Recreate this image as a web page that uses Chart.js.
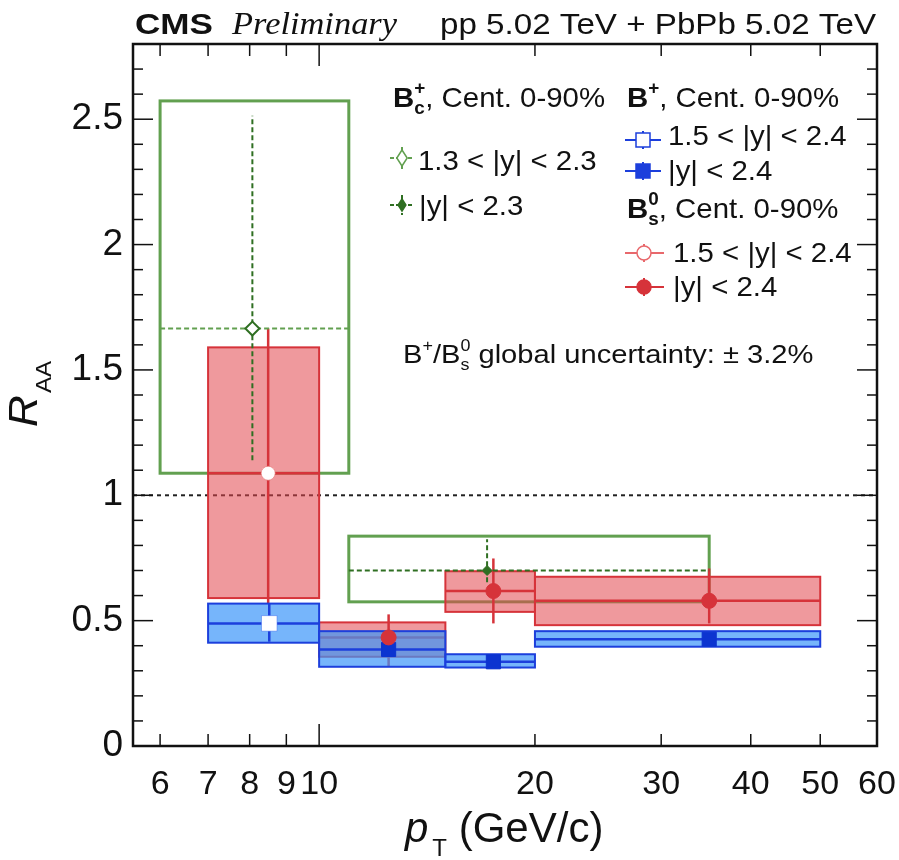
<!DOCTYPE html>
<html>
<head>
<meta charset="utf-8">
<script src="https://cdn.jsdelivr.net/npm/chart.js@4.4.1/dist/chart.umd.min.js"></script>
<style>
  html, body { margin: 0; padding: 0; background: #fff; }
  #wrap { width: 899px; height: 860px; }
</style>
</head>
<body>
<div id="wrap"><canvas id="raa" width="899" height="860"></canvas></div>
<script>
const SANS = '"Liberation Sans", Arial, Helvetica, sans-serif';
const SERIF = '"Liberation Serif", "Times New Roman", serif';

// axis ticks
const xTickVals = [6, 7, 8, 9, 10, 20, 30, 40, 50, 60];
const yTickVals = [0, 0.5, 1, 1.5, 2, 2.5];

// Bc+, Cent. 0-90%  (bin 0: 1.3 < |y| < 2.3, bin 1: |y| < 2.3)
const bcBinLo = [6, 11];
const bcBinHi = [11, 35];
const bcPt = [8.07, 17.15];
const bcRaa = [1.665, 0.70];
const bcStatLo = [1.14, 0.653];
const bcStatHi = [2.514, 0.825];
const bcSystLo = [1.088, 0.575];
const bcSystHi = [2.573, 0.837];

// B+, Cent. 0-90%  (bin 0: 1.5 < |y| < 2.4, others |y| < 2.4)
const bpBinLo = [7, 10, 15, 20];
const bpBinHi = [10, 15, 20, 50];
const bpPt = [8.52, 12.5, 17.5, 35];
const bpRaa = [0.489, 0.385, 0.336, 0.426];
const bpStatLo = [0.416, 0.36, 0.32, 0.41];
const bpStatHi = [0.568, 0.41, 0.35, 0.44];
const bpSystLo = [0.412, 0.316, 0.313, 0.396];
const bpSystHi = [0.568, 0.458, 0.366, 0.458];

// Bs0, Cent. 0-90%  (bin 0: 1.5 < |y| < 2.4, others |y| < 2.4)
const bsBinLo = [7, 10, 15, 20];
const bsBinHi = [10, 15, 20, 50];
const bsPt = [8.49, 12.5, 17.5, 35];
const bsRaa = [1.088, 0.433, 0.618, 0.579];
const bsStatLo = [0.57, 0.316, 0.489, 0.489];
const bsStatHi = [1.665, 0.525, 0.748, 0.708];
const bsSystLo = [0.59, 0.356, 0.535, 0.482];
const bsSystHi = [1.59, 0.493, 0.697, 0.675];

const GREEN = '#62a050';
const GREEN_D = '#2f6f22';
const RED = '#d6333a';
const RED_FILL = 'rgba(226,70,76,0.55)';
const BLUE = '#1c3fdc';
const BLUE_FILL = 'rgba(60,150,250,0.7)';
const INK = '#111';

function seg(ctx, x1, y1, x2, y2) {
    ctx.beginPath();
    ctx.moveTo(x1, y1);
    ctx.lineTo(x2, y2);
    ctx.stroke();
}

function drawSpecies(ctx, X, Y, lo, hi, pt, raa, sLo, sHi, bLo, bHi, col, fill) {
    lo.forEach((l, i) => {
        const x1 = X(l), x2 = X(hi[i]);
        const yt = Y(bHi[i]), yb = Y(bLo[i]);
        ctx.fillStyle = fill;
        ctx.fillRect(x1, yt, x2 - x1, yb - yt);
        ctx.strokeStyle = col;
        ctx.lineWidth = 2;
        ctx.strokeRect(x1, yt, x2 - x1, yb - yt);
        ctx.lineWidth = 2.5;
        seg(ctx, x1, Y(raa[i]), x2, Y(raa[i]));
        seg(ctx, X(pt[i]), Y(sLo[i]), X(pt[i]), Y(sHi[i]));
    });
}

// text drawn as runs (for sub/superscripts), stretched by sx
function rich(ctx, x, y, parts, sx) {
    ctx.save();
    ctx.translate(x, y);
    ctx.scale(sx || 1, 1);
    ctx.textAlign = 'left';
    ctx.textBaseline = 'alphabetic';
    let cx = 0;
    for (const p of parts) {
        ctx.font = p.font;
        ctx.fillStyle = p.color || INK;
        if (p.stack) {
            ctx.fillText(p.stack[0], cx, p.up);
            ctx.fillText(p.stack[1], cx, p.down);
            cx += Math.max(ctx.measureText(p.stack[0]).width, ctx.measureText(p.stack[1]).width) + (p.gap || 0);
        } else {
            const dx = p.dx || 0;
            ctx.fillText(p.text, cx + dx, p.dy || 0);
            cx += ctx.measureText(p.text).width + dx;
        }
    }
    ctx.restore();
}

function fitText(ctx, text, font, x, y, w) {
    ctx.save();
    ctx.font = font;
    ctx.fillStyle = INK;
    ctx.textBaseline = 'alphabetic';
    const sx = w / ctx.measureText(text).width;
    ctx.translate(x, y);
    ctx.scale(sx, 1);
    ctx.fillText(text, 0, 0);
    ctx.restore();
}

function legendMark(ctx, kind, open, x, y, r, col, x1, x2, dv, dashed) {
    ctx.save();
    ctx.strokeStyle = col;
    ctx.lineWidth = 2;
    if (dashed) ctx.setLineDash([4, 2]);
    seg(ctx, x1, y, x2, y);
    seg(ctx, x, y - dv, x, y + dv);
    ctx.setLineDash([]);
    ctx.beginPath();
    if (kind === 'circle') {
        ctx.arc(x, y, r, 0, Math.PI * 2);
    } else if (kind === 'rect') {
        ctx.rect(x - r, y - r, r * 2, r * 2);
    } else {
        ctx.moveTo(x, y - r); ctx.lineTo(x + r * 0.65, y); ctx.lineTo(x, y + r); ctx.lineTo(x - r * 0.65, y); ctx.closePath();
    }
    ctx.fillStyle = open ? '#fff' : col;
    ctx.fill();
    ctx.lineWidth = 1.5;
    ctx.stroke();
    ctx.restore();
}

const cmsPlugin = {
    id: 'cmsPlot',
    beforeDatasetsDraw(chart) {
        const { ctx, chartArea: a } = chart;
        const X = v => chart.scales.x.getPixelForValue(v);
        const Y = v => chart.scales.y.getPixelForValue(v);
        ctx.save();
        ctx.beginPath();
        ctx.rect(a.left, a.top, a.right - a.left, a.bottom - a.top);
        ctx.clip();

        // R_AA = 1 reference
        ctx.strokeStyle = '#222';
        ctx.lineWidth = 2;
        ctx.setLineDash([4, 4]);
        seg(ctx, a.left, Y(1), a.right, Y(1));
        ctx.setLineDash([]);

        // Bc+ open syst boxes
        ctx.strokeStyle = GREEN;
        ctx.lineWidth = 3;
        bcBinLo.forEach((lo, i) => {
            ctx.strokeRect(X(lo), Y(bcSystHi[i]), X(bcBinHi[i]) - X(lo), Y(bcSystLo[i]) - Y(bcSystHi[i]));
        });

        drawSpecies(ctx, X, Y, bsBinLo, bsBinHi, bsPt, bsRaa, bsStatLo, bsStatHi, bsSystLo, bsSystHi, RED, RED_FILL);
        drawSpecies(ctx, X, Y, bpBinLo, bpBinHi, bpPt, bpRaa, bpStatLo, bpStatHi, bpSystLo, bpSystHi, BLUE, BLUE_FILL);

        // Bc+ dashed x and stat errors
        ctx.lineWidth = 2;
        ctx.setLineDash([5, 3]);
        bcBinLo.forEach((lo, i) => {
            ctx.strokeStyle = i === 0 ? GREEN : GREEN_D;
            seg(ctx, X(lo), Y(bcRaa[i]), X(bcBinHi[i]), Y(bcRaa[i]));
            ctx.strokeStyle = GREEN_D;
            seg(ctx, X(bcPt[i]), Y(bcStatLo[i]), X(bcPt[i]), Y(bcStatHi[i]));
        });
        ctx.restore();
    },
    afterDraw(chart) {
        const { ctx, chartArea: a } = chart;
        const X = v => chart.scales.x.getPixelForValue(v);
        const Y = v => chart.scales.y.getPixelForValue(v);
        ctx.save();

        // frame + inward ticks
        ctx.strokeStyle = INK;
        ctx.lineWidth = 1.5;
        for (let k = 0; k <= 28; k++) {
            const py = Y(k / 10);
            const len = k % 5 === 0 ? 20 : 10;
            seg(ctx, a.left, py, a.left + len, py);
            seg(ctx, a.right - len, py, a.right, py);
        }
        xTickVals.forEach(v => {
            const px = X(v);
            const len = v === 10 ? 22 : 12;
            seg(ctx, px, a.bottom, px, a.bottom - len);
            seg(ctx, px, a.top, px, a.top + len);
        });
        ctx.lineWidth = 2.5;
        ctx.strokeRect(a.left, a.top, a.right - a.left, a.bottom - a.top);

        // header
        fitText(ctx, 'CMS', `bold 30px ${SANS}`, 135, 34, 78);
        fitText(ctx, 'Preliminary', `italic 31px ${SERIF}`, 232, 34, 165);
        fitText(ctx, 'pp 5.02 TeV + PbPb 5.02 TeV', `29px ${SANS}`, 440, 34, 436);

        // axis titles
        rich(ctx, 405, 842, [
            { text: 'p', font: `italic 42px ${SANS}` },
            { text: 'T', font: `24px ${SANS}`, dx: 4, dy: 14 },
            { text: ' (GeV/c)', font: `42px ${SANS}` }
        ], 1);
        ctx.save();
        ctx.translate(37, 427);
        ctx.rotate(-Math.PI / 2);
        rich(ctx, 0, 0, [
            { text: 'R', font: `italic 40px ${SANS}` },
            { text: 'AA', font: `22px ${SANS}`, dx: 2, dy: 14 }
        ], 1.1);
        ctx.restore();

        // legend
        const L = `28px ${SANS}`, LB = `bold 28px ${SANS}`, SB = `bold 18px ${SANS}`;
        const sx = 1.05;
        rich(ctx, 393, 107, [
            { text: 'B', font: LB },
            { stack: ['+', 'c'], font: SB, up: -13, down: 7 },
            { text: ', Cent. 0-90%', font: L }
        ], sx);
        legendMark(ctx, 'diamond', true, 402, 158, 8, GREEN, 390, 414, 11, true);
        rich(ctx, 418, 170, [{ text: '1.3 < |y| < 2.3', font: L }], sx);
        legendMark(ctx, 'diamond', false, 402, 205, 6, GREEN_D, 390, 414, 10, true);
        rich(ctx, 419, 215, [{ text: '|y| < 2.3', font: L }], sx);

        rich(ctx, 627, 107, [
            { text: 'B', font: LB },
            { text: '+', font: SB, dy: -13 },
            { text: ', Cent. 0-90%', font: L }
        ], sx);
        legendMark(ctx, 'rect', true, 643, 140, 7, BLUE, 625, 661, 9);
        rich(ctx, 668, 145, [{ text: '1.5 < |y| < 2.4', font: L }], sx);
        legendMark(ctx, 'rect', false, 643, 171, 7, BLUE, 625, 661, 9);
        rich(ctx, 668, 180, [{ text: '|y| < 2.4', font: L }], sx);

        rich(ctx, 627, 218, [
            { text: 'B', font: LB },
            { stack: ['0', 's'], font: SB, up: -13, down: 7 },
            { text: ', Cent. 0-90%', font: L }
        ], sx);
        legendMark(ctx, 'circle', true, 644, 253, 7, '#e8686c', 625, 664, 9);
        rich(ctx, 673, 262, [{ text: '1.5 < |y| < 2.4', font: L }], sx);
        legendMark(ctx, 'circle', false, 644, 287, 7, RED, 625, 664, 9);
        rich(ctx, 673, 296, [{ text: '|y| < 2.4', font: L }], sx);

        rich(ctx, 403, 363, [
            { text: 'B', font: `26px ${SANS}` },
            { text: '+', font: `16px ${SANS}`, dy: -12 },
            { text: '/B', font: `26px ${SANS}` },
            { stack: ['0', 's'], font: `16px ${SANS}`, up: -12, down: 7 },
            { text: ' global uncertainty: \u00b1 3.2%', font: `26px ${SANS}` }
        ], 1.12);

        ctx.restore();
    }
};

const fwd = arr => [{ x: arr[0][0], y: arr[1][0] }];
const rest = arr => arr[0].slice(1).map((v, i) => ({ x: v, y: arr[1][i + 1] }));

new Chart(document.getElementById('raa'), {
    type: 'scatter',
    data: {
        datasets: [
            { label: 'Bc+ 1.3<|y|<2.3', data: fwd([bcPt, bcRaa]), pointStyle: 'rectRot', pointRadius: 7,
              pointBackgroundColor: '#fff', pointBorderColor: GREEN_D, pointBorderWidth: 2 },
            { label: 'Bc+ |y|<2.3', data: rest([bcPt, bcRaa]), pointStyle: 'rectRot', pointRadius: 5,
              pointBackgroundColor: GREEN_D, pointBorderColor: GREEN_D, pointBorderWidth: 1 },
            { label: 'Bs0 1.5<|y|<2.4', data: fwd([bsPt, bsRaa]), pointStyle: 'circle', pointRadius: 7,
              pointBackgroundColor: '#fff', pointBorderColor: 'rgba(230,110,110,0.6)', pointBorderWidth: 1 },
            { label: 'Bs0 |y|<2.4', data: rest([bsPt, bsRaa]), pointStyle: 'circle', pointRadius: 7.5,
              pointBackgroundColor: RED, pointBorderColor: RED, pointBorderWidth: 1 },
            { label: 'B+ 1.5<|y|<2.4', data: fwd([bpPt, bpRaa]), pointStyle: 'rect', pointRadius: 11,
              pointBackgroundColor: '#fff', pointBorderColor: 'rgba(60,110,240,0.5)', pointBorderWidth: 1 },
            { label: 'B+ |y|<2.4', data: rest([bpPt, bpRaa]), pointStyle: 'rect', pointRadius: 10,
              pointBackgroundColor: '#0c34d0', pointBorderColor: '#0c34d0', pointBorderWidth: 1 }
        ]
    },
    options: {
        responsive: false,
        animation: false,
        devicePixelRatio: 1,
        events: [],
        layout: { padding: { left: 0, top: 44, right: 22, bottom: 0 } },
        plugins: { legend: { display: false }, tooltip: { enabled: false } },
        scales: {
            x: {
                type: 'logarithmic',
                min: 5.5,
                max: 60,
                afterBuildTicks: s => { s.ticks = xTickVals.map(v => ({ value: v })); },
                afterFit: s => { s.height = 114; s.paddingLeft = 0; s.paddingRight = 0; },
                grid: { display: false, drawTicks: false },
                border: { display: false },
                ticks: {
                    autoSkip: false,
                    maxRotation: 0,
                    padding: 18,
                    color: INK,
                    font: { family: SANS, size: 34 },
                    callback: v => String(v)
                }
            },
            y: {
                min: 0,
                max: 2.8,
                afterBuildTicks: s => { s.ticks = yTickVals.map(v => ({ value: v })); },
                afterFit: s => { s.width = 133; s.paddingTop = 0; s.paddingBottom = 0; },
                grid: { display: false, drawTicks: false },
                border: { display: false },
                ticks: {
                    padding: 10,
                    color: INK,
                    font: { family: SANS, size: 37 },
                    callback: v => String(v)
                }
            }
        }
    },
    plugins: [cmsPlugin]
});
</script>
</body>
</html>
